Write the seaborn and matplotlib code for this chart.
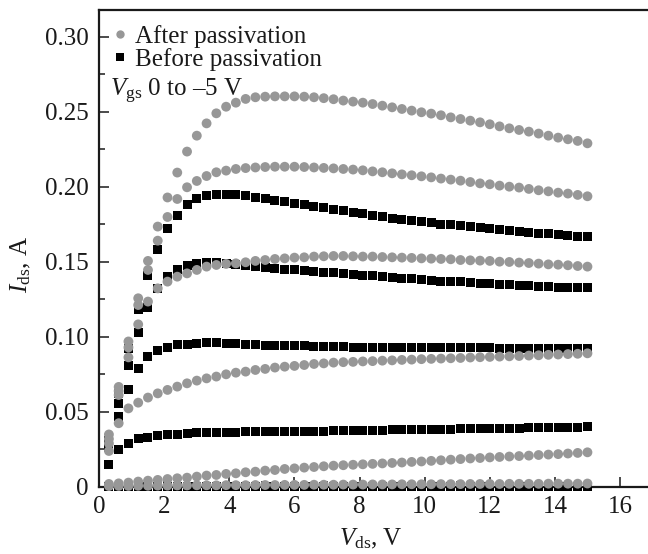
import numpy as np
import pandas as pd
import matplotlib
matplotlib.use("Agg")
import matplotlib.pyplot as plt
from matplotlib.lines import Line2D
from matplotlib.ticker import MultipleLocator
import seaborn as sns

# ---------------- data ----------------
vds = [round(0.3 * k, 1) for k in range(1, 51)]  # 0.3 ... 15.0 V

after_1 = [0.035, 0.0667, 0.097, 0.1258, 0.1507, 0.1736, 0.193, 0.2096, 0.2236, 0.2342,
           0.2424, 0.2491, 0.2535, 0.2562, 0.2587, 0.2598, 0.2602, 0.2604, 0.2604, 0.2604,
           0.2602, 0.2598, 0.2592, 0.2585, 0.2576, 0.2569, 0.2562, 0.2553, 0.2542, 0.2531,
           0.252, 0.2509, 0.2498, 0.2489, 0.2478, 0.2464, 0.2453, 0.2442, 0.2431, 0.2418,
           0.2404, 0.2391, 0.238, 0.2369, 0.2356, 0.2342, 0.2329, 0.2318, 0.2307, 0.2291]
after_2 = [0.032, 0.064, 0.093, 0.1213, 0.1447, 0.1642, 0.180, 0.192, 0.1998, 0.204,
           0.2073, 0.2098, 0.2109, 0.212, 0.2126, 0.213, 0.2133, 0.2135, 0.2135, 0.2135,
           0.2133, 0.213, 0.2127, 0.2124, 0.212, 0.2116, 0.2111, 0.2104, 0.2098, 0.2091,
           0.2084, 0.2078, 0.2071, 0.2064, 0.2056, 0.2049, 0.2042, 0.2033, 0.2024, 0.2018,
           0.2009, 0.2002, 0.1996, 0.1987, 0.1978, 0.1971, 0.1962, 0.1956, 0.1947, 0.1938]
after_3 = [0.029, 0.0613, 0.0864, 0.1084, 0.1236, 0.1324, 0.1369, 0.1402, 0.1424, 0.1447,
           0.1469, 0.148, 0.1487, 0.1491, 0.1498, 0.1507, 0.1513, 0.152, 0.1524, 0.1529,
           0.1531, 0.1536, 0.1538, 0.154, 0.154, 0.1538, 0.1536, 0.1536, 0.1533, 0.1531,
           0.1529, 0.1527, 0.1524, 0.1522, 0.152, 0.1518, 0.1513, 0.1511, 0.1509, 0.1507,
           0.1502, 0.15, 0.1496, 0.1493, 0.1489, 0.1484, 0.1482, 0.1478, 0.1473, 0.1469]
after_4 = [0.024, 0.0425, 0.0524, 0.0562, 0.0596, 0.0624, 0.0647, 0.0669, 0.0691, 0.0709,
           0.0724, 0.0736, 0.0751, 0.0762, 0.0769, 0.078, 0.0787, 0.0796, 0.0802, 0.0807,
           0.0813, 0.082, 0.0824, 0.0829, 0.0832, 0.0834, 0.0837, 0.0839, 0.0842, 0.0844,
           0.0847, 0.0849, 0.0852, 0.0854, 0.0856, 0.0858, 0.086, 0.0863, 0.0865, 0.0867,
           0.0869, 0.0871, 0.0873, 0.0876, 0.0878, 0.0881, 0.0883, 0.0886, 0.0888, 0.0891]
after_5 = [0.002, 0.0024, 0.0029, 0.0036, 0.0042, 0.0047, 0.0053, 0.0058, 0.0062, 0.0069,
           0.0076, 0.008, 0.0087, 0.0091, 0.0098, 0.0102, 0.0109, 0.0113, 0.012, 0.0124,
           0.0129, 0.0133, 0.0138, 0.0142, 0.0145, 0.0148, 0.0151, 0.0154, 0.0157, 0.016,
           0.0163, 0.0167, 0.017, 0.0174, 0.0178, 0.0182, 0.0186, 0.019, 0.0193, 0.0197,
           0.02, 0.0203, 0.0206, 0.0209, 0.0213, 0.0216, 0.0219, 0.0223, 0.0227, 0.0231]
after_6 = [0.0006, 0.0007, 0.0007, 0.0008, 0.0008, 0.0009, 0.0009, 0.001, 0.001, 0.0011,
           0.0011, 0.0011, 0.0012, 0.0012, 0.0012, 0.0013, 0.0013, 0.0013, 0.0014, 0.0014,
           0.0014, 0.0015, 0.0015, 0.0015, 0.0016, 0.0016, 0.0016, 0.0017, 0.0017, 0.0017,
           0.0018, 0.0018, 0.0018, 0.0018, 0.0019, 0.0019, 0.0019, 0.002, 0.002, 0.002,
           0.002, 0.0021, 0.0021, 0.0021, 0.0021, 0.0022, 0.0022, 0.0022, 0.0022, 0.0023]

before_1 = [0.031, 0.062, 0.092, 0.1184, 0.1407, 0.158, 0.172, 0.181, 0.188, 0.192,
            0.1942, 0.195, 0.1953, 0.1947, 0.194, 0.1931, 0.192, 0.1913, 0.190, 0.189,
            0.188, 0.187, 0.186, 0.1853, 0.1842, 0.1831, 0.1824, 0.1813, 0.1804, 0.1793,
            0.1784, 0.1776, 0.1767, 0.176, 0.1753, 0.1747, 0.1742, 0.1736, 0.1729, 0.1722,
            0.1716, 0.1709, 0.1702, 0.1698, 0.1691, 0.1687, 0.1682, 0.1678, 0.1673, 0.1669]
before_2 = [0.028, 0.0558, 0.0813, 0.1029, 0.1198, 0.132, 0.1402, 0.1447, 0.1476, 0.1491,
            0.1498, 0.1496, 0.1487, 0.148, 0.1476, 0.1469, 0.1462, 0.1458, 0.1451, 0.1447,
            0.1442, 0.1436, 0.1431, 0.1429, 0.1424, 0.1418, 0.1413, 0.1407, 0.1402, 0.1398,
            0.1391, 0.1387, 0.1382, 0.1378, 0.1373, 0.1369, 0.1367, 0.1362, 0.1358, 0.1356,
            0.1351, 0.1349, 0.1344, 0.1342, 0.1338, 0.1336, 0.1333, 0.1331, 0.1329, 0.1327]
before_3 = [0.026, 0.0469, 0.065, 0.0791, 0.0873, 0.0913, 0.0931, 0.0947, 0.0953, 0.0958,
            0.096, 0.096, 0.0958, 0.0955, 0.0952, 0.0948, 0.0946, 0.0943, 0.0942, 0.0941,
            0.094, 0.0938, 0.0936, 0.0934, 0.0934, 0.0933, 0.0933, 0.0932, 0.0932, 0.0931,
            0.0931, 0.093, 0.093, 0.0929, 0.0929, 0.0928, 0.0928, 0.0927, 0.0927, 0.0927,
            0.0926, 0.0926, 0.0926, 0.0925, 0.0925, 0.0925, 0.0924, 0.0924, 0.0924, 0.0924]
before_4 = [0.0147, 0.0251, 0.0291, 0.032, 0.0331, 0.034, 0.0347, 0.0353, 0.0358, 0.036,
            0.0362, 0.0364, 0.0365, 0.0366, 0.0367, 0.0368, 0.0369, 0.037, 0.037, 0.0371,
            0.0372, 0.0372, 0.0373, 0.0374, 0.0375, 0.0376, 0.0377, 0.0378, 0.0379, 0.038,
            0.0381, 0.0382, 0.0383, 0.0384, 0.0385, 0.0386, 0.0387, 0.0388, 0.0389, 0.039,
            0.0391, 0.0392, 0.0393, 0.0394, 0.0395, 0.0396, 0.0397, 0.0398, 0.0399, 0.0401]
before_5 = [0.0004, 0.0004, 0.0004, 0.0005, 0.0005, 0.0005, 0.0005, 0.0005, 0.0005, 0.0005,
            0.0005, 0.0005, 0.0005, 0.0005, 0.0005, 0.0005, 0.0005, 0.0005, 0.0005, 0.0005,
            0.0005, 0.0005, 0.0005, 0.0005, 0.0005, 0.0005, 0.0005, 0.0005, 0.0005, 0.0005,
            0.0005, 0.0005, 0.0005, 0.0005, 0.0005, 0.0005, 0.0005, 0.0005, 0.0005, 0.0005,
            0.0005, 0.0005, 0.0005, 0.0005, 0.0005, 0.0005, 0.0005, 0.0005, 0.0005, 0.0005]

after_series = [after_1, after_2, after_3, after_4, after_5, after_6]
before_series = [before_1, before_2, before_3, before_4, before_5]

label_after = "After passivation"
label_before = "Before passivation"
gate_text = r"$V_{\rm gs}$ 0 to –5 V"
xlabel = r"$V_{\rm ds}$, V"
ylabel = r"$I_{\rm ds}$, A"
xticks = [0, 2, 4, 6, 8, 10, 12, 14, 16]
yticks = [0, 0.05, 0.10, 0.15, 0.20, 0.25, 0.30]
ytick_labels = ["0", "0.05", "0.10", "0.15", "0.20", "0.25", "0.30"]

# ---------------- style ----------------
sns.set_theme(style="white")
plt.rcParams["font.family"] = ["Liberation Serif", "DejaVu Serif"]
plt.rcParams["mathtext.fontset"] = "custom"
plt.rcParams["mathtext.rm"] = "Liberation Serif"
plt.rcParams["mathtext.it"] = "Liberation Serif:italic"
plt.rcParams["mathtext.bf"] = "Liberation Serif:bold"

GRAY = "#979797"
INK = "#1a1a1a"
FS = 18

fig = plt.figure(figsize=(6.48, 5.54), dpi=100)
ax = fig.add_axes([0.153, 0.121, 0.847, 0.861])

rows = []
for i, s in enumerate(before_series):
    for x, y in zip(vds, s):
        rows.append({"Vds": x, "Ids": y, "curve": f"b{i}"})
df_before = pd.DataFrame(rows)
rows = []
for i, s in enumerate(after_series):
    for x, y in zip(vds, s):
        rows.append({"Vds": x, "Ids": y, "curve": f"a{i}"})
df_after = pd.DataFrame(rows)

sns.scatterplot(data=df_before, x="Vds", y="Ids", marker="s", s=42, color="black",
                edgecolor="none", linewidth=0, ax=ax, legend=False, zorder=3, clip_on=False)
sns.scatterplot(data=df_after, x="Vds", y="Ids", marker="o", s=50, color=GRAY,
                edgecolor="none", linewidth=0, ax=ax, legend=False, zorder=4, clip_on=False)

ax.set_xlim(0, 16.86)
ax.set_ylim(0, 0.318)
ax.set_xticks(xticks)
ax.set_xticklabels([str(t) for t in xticks])
ax.set_yticks(yticks)
ax.set_yticklabels(ytick_labels)
ax.xaxis.set_minor_locator(MultipleLocator(1))
ax.yaxis.set_minor_locator(MultipleLocator(0.025))
ax.tick_params(which="major", direction="in", length=7.5, width=1.1, labelsize=FS,
               colors=INK, top=False, right=False)
ax.tick_params(axis="y", which="major", pad=7.5)
ax.tick_params(axis="x", which="major", pad=6.5)
ax.tick_params(which="minor", direction="in", length=4, width=1.1, top=False, right=False,
               colors=INK)
ax.tick_params(axis="x", which="both", bottom=True)
ax.tick_params(axis="y", which="both", left=True)

for side in ["left", "bottom", "top"]:
    ax.spines[side].set_visible(True)
    ax.spines[side].set_color(INK)
    ax.spines[side].set_linewidth(1.6)
ax.spines["right"].set_visible(False)

ax.set_xlabel(xlabel, fontsize=FS, color=INK)
ax.set_ylabel(ylabel, fontsize=FS, color=INK)
ax.xaxis.set_label_coords(0.495, -0.084)
ax.yaxis.set_label_coords(-0.12, 0.467)

handles = [
    Line2D([], [], linestyle="none", marker="o", markersize=6, color=GRAY, markeredgewidth=0),
    Line2D([], [], linestyle="none", marker="s", markersize=5.2, color="black", markeredgewidth=0),
]
leg = ax.legend(handles, [label_after, label_before], loc="upper left",
                bbox_to_anchor=(0.006, 0.985), frameon=False, fontsize=FS,
                handlelength=0.8, handletextpad=0.2, labelspacing=0.0,
                borderaxespad=0.0, borderpad=0.3)
for t in leg.get_texts():
    t.set_color(INK)

ax.text(0.02, 0.818, gate_text, transform=ax.transAxes, fontsize=FS,
        ha="left", va="baseline", color=INK, zorder=5)

fig.savefig("out.png", dpi=100, facecolor="white")
